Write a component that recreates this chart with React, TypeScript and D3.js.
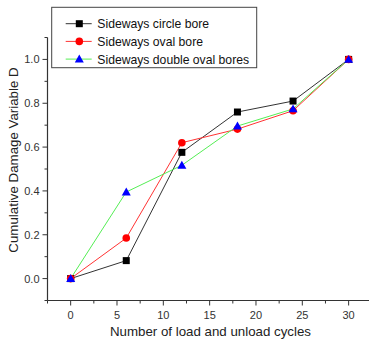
import React from "react";
import * as d3 from "d3";

const cycles = [0, 6, 12, 18, 24, 30];
const circleBore = [0, 0.082, 0.576, 0.76, 0.81, 1.0];
const ovalBore = [0, 0.185, 0.62, 0.682, 0.766, 1.0];
const doubleOvalBores = [0, 0.395, 0.517, 0.696, 0.774, 1.0];
const seriesNames = ["Sideways circle bore", "Sideways oval bore", "Sideways double oval bores"];
const xTicks = [0, 5, 10, 15, 20, 25, 30];
const yTicks = [0, 0.2, 0.4, 0.6, 0.8, 1.0];

const W = 369;
const H = 342;
const FONT = "Liberation Sans, Arial, sans-serif";

export default function App() {
  const x = d3.scaleLinear().domain([-2.5, 32.5]).range([47.5, 371.8]);
  const y = d3.scaleLinear().domain([-0.1, 1.1]).range([300.5, 37.5]);
  const x0 = x(-2.5);
  const y0 = y(-0.1);

  const xMinor = d3.range(-2.5, 32.6, 2.5);
  const yMinor = d3.range(-0.1, 1.101, 0.1);

  const series = [
    { name: seriesNames[0], values: circleBore, line: "#333333", fill: "#000000", marker: "square" },
    { name: seriesNames[1], values: ovalBore, line: "#ff3333", fill: "#ff0000", marker: "circle" },
    { name: seriesNames[2], values: doubleOvalBores, line: "#55ee55", fill: "#0000ff", marker: "triangle" },
  ];

  const line = d3.line<number>().x((_, i) => x(cycles[i])).y((d) => y(d));

  const marker = (kind: string, cx: number, cy: number, fill: string, key: string) => {
    if (kind === "square") return <rect key={key} x={cx - 3.5} y={cy - 3.5} width={7} height={7} fill={fill} />;
    if (kind === "circle") return <circle key={key} cx={cx} cy={cy} r={3.8} fill={fill} />;
    const s = 4.5;
    return <path key={key} d={`M${cx},${cy - s}L${cx + s},${cy + s * 0.75}L${cx - s},${cy + s * 0.75}Z`} fill={fill} />;
  };

  return (
    <svg width={W} height={H} style={{ position: "absolute", left: 0, top: 0, background: "#fff" }}>
      <rect width={W} height={H} fill="#fff" />
      {/* axes */}
      <line x1={x0} x2={W} y1={y0} y2={y0} stroke="#333" strokeWidth={1.2} />
      <line x1={x0} x2={x0} y1={y(1.1)} y2={y0} stroke="#333" strokeWidth={1.2} />
      {xMinor.map((v) => {
        const major = xTicks.includes(v);
        return <line key={"xt" + v} x1={x(v)} x2={x(v)} y1={y0} y2={y0 + (major ? 5 : 3)} stroke="#333" />;
      })}
      {yMinor.map((v, i) => {
        const major = yTicks.some((t) => Math.abs(t - v) < 1e-6);
        return <line key={"yt" + i} x1={x0} x2={x0 - (major ? 5 : 3)} y1={y(v)} y2={y(v)} stroke="#333" />;
      })}
      {xTicks.map((v) => (
        <text key={"xl" + v} x={x(v)} y={y0 + 18} textAnchor="middle" fontSize={11} fontFamily={FONT} fill="#333">
          {v}
        </text>
      ))}
      {yTicks.map((v) => (
        <text key={"yl" + v} x={x0 - 8} y={y(v) + 4} textAnchor="end" fontSize={11} fontFamily={FONT} fill="#333">
          {v.toFixed(1)}
        </text>
      ))}
      <text x={210.5} y={336} textAnchor="middle" fontSize={13.3} fontFamily={FONT} fill="#222">
        Number of load and unload cycles
      </text>
      <text
        transform="translate(18,160) rotate(-90)"
        textAnchor="middle"
        fontSize={13.3}
        fontFamily={FONT}
        fill="#222"
      >
        Cumulative Damage Variable D
      </text>

      {/* series */}
      {series.map((s) => (
        <path key={"l" + s.name} d={line(s.values) || ""} fill="none" stroke={s.line} strokeWidth={1} />
      ))}
      {series.map((s) => s.values.map((v, i) => marker(s.marker, x(cycles[i]), y(v), s.fill, s.name + i)))}

      {/* legend */}
      <rect x={51.7} y={7.3} width={205} height={60.4} fill="#fff" stroke="#444" strokeWidth={1} />
      {series.map((s, i) => {
        const ly = 23.7 + i * 17.7;
        return (
          <g key={"lg" + s.name}>
            <line x1={65.7} x2={91.7} y1={ly} y2={ly} stroke={s.line} strokeWidth={1} />
            {marker(s.marker, 79.3, ly, s.fill, "lm" + i)}
            <text x={97.3} y={ly + 4.5} fontSize={12.2} fontFamily={FONT} fill="#111">
              {s.name}
            </text>
          </g>
        );
      })}
    </svg>
  );
}
